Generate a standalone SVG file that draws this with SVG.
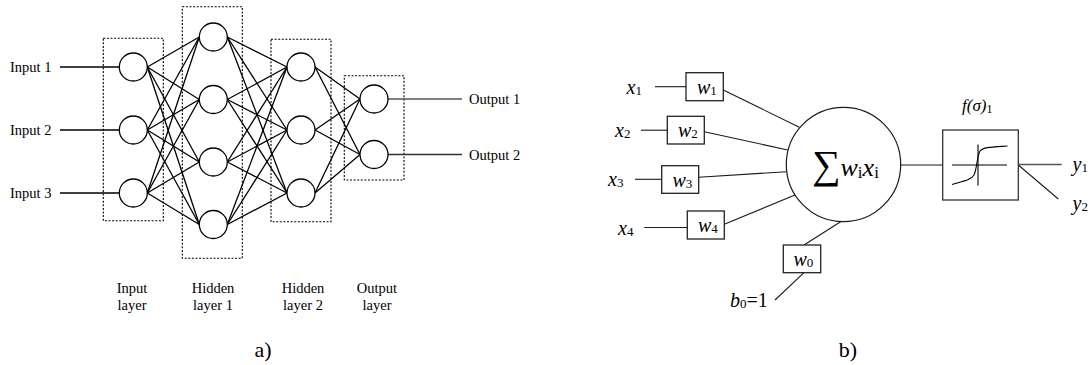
<svg xmlns="http://www.w3.org/2000/svg" width="1091" height="365" viewBox="0 0 1091 365" font-family="'Liberation Serif', 'DejaVu Serif', 'Times New Roman', serif">
<style>
text, tspan{font-family:'Liberation Serif', 'DejaVu Serif', 'Times New Roman', serif;fill:#000}
.lbl{font-size:14.5px}
.cap{font-size:22px}
.n{fill:#fff;stroke:#000;stroke-width:1.3}
.box{fill:none;stroke:#000;stroke-width:1.1;stroke-dasharray:2 1.6}
.c line{stroke:#000;stroke-width:1.3}
.r line,.r path{stroke:#1a1a1a;stroke-width:1.1;fill:none}
.wb{fill:#fff;stroke:#222;stroke-width:1.3}
.it{font-style:italic;font-size:20px}
.sub{font-size:13px;font-style:normal}
</style>
<rect width="1091" height="365" fill="#fff"/>

<g id="layer-boxes">
<rect class="box" x="103.3" y="38.3" width="60" height="182.4"/>
<rect class="box" x="182.3" y="6.7" width="60" height="251.6"/>
<rect class="box" x="271" y="39.3" width="60" height="182.4"/>
<rect class="box" x="344.3" y="75.7" width="59.7" height="104.3"/>
</g>

<g id="connectors-a" class="c">
<line x1="60" y1="67" x2="119.3" y2="67"/>
<line x1="60" y1="130" x2="119.3" y2="130"/>
<line x1="60" y1="193" x2="119.3" y2="193"/>
<line x1="147.3" y1="67" x2="199.3" y2="37"/><line x1="147.3" y1="67" x2="199.3" y2="99.5"/><line x1="147.3" y1="67" x2="199.3" y2="162"/><line x1="147.3" y1="67" x2="199.3" y2="224.5"/>
<line x1="147.3" y1="130" x2="199.3" y2="37"/><line x1="147.3" y1="130" x2="199.3" y2="99.5"/><line x1="147.3" y1="130" x2="199.3" y2="162"/><line x1="147.3" y1="130" x2="199.3" y2="224.5"/>
<line x1="147.3" y1="193" x2="199.3" y2="37"/><line x1="147.3" y1="193" x2="199.3" y2="99.5"/><line x1="147.3" y1="193" x2="199.3" y2="162"/><line x1="147.3" y1="193" x2="199.3" y2="224.5"/>
<line x1="227.3" y1="37" x2="287" y2="67"/><line x1="227.3" y1="37" x2="287" y2="130"/><line x1="227.3" y1="37" x2="287" y2="193"/>
<line x1="227.3" y1="99.5" x2="287" y2="67"/><line x1="227.3" y1="99.5" x2="287" y2="130"/><line x1="227.3" y1="99.5" x2="287" y2="193"/>
<line x1="227.3" y1="162" x2="287" y2="67"/><line x1="227.3" y1="162" x2="287" y2="130"/><line x1="227.3" y1="162" x2="287" y2="193"/>
<line x1="227.3" y1="224.5" x2="287" y2="67"/><line x1="227.3" y1="224.5" x2="287" y2="130"/><line x1="227.3" y1="224.5" x2="287" y2="193"/>
<line x1="315" y1="67" x2="360" y2="99"/><line x1="315" y1="67" x2="360" y2="154.5"/>
<line x1="315" y1="130" x2="360" y2="99"/><line x1="315" y1="130" x2="360" y2="154.5"/>
<line x1="315" y1="193" x2="360" y2="99"/><line x1="315" y1="193" x2="360" y2="154.5"/>
<line x1="388" y1="99" x2="462" y2="99" style="stroke:#555;stroke-width:1.6"/>
<line x1="388" y1="154.5" x2="462" y2="154.5" style="stroke:#333"/>
</g>

<g id="input-layer">
<circle class="n" cx="133.3" cy="67" r="14"/>
<circle class="n" cx="133.3" cy="130" r="14"/>
<circle class="n" cx="133.3" cy="193" r="14"/>
</g>
<g id="hidden-layer-1">
<circle class="n" cx="213.3" cy="37" r="14"/>
<circle class="n" cx="213.3" cy="99.5" r="14"/>
<circle class="n" cx="213.3" cy="162" r="14"/>
<circle class="n" cx="213.3" cy="224.5" r="14"/>
</g>
<g id="hidden-layer-2">
<circle class="n" cx="301" cy="67" r="14"/>
<circle class="n" cx="301" cy="130" r="14"/>
<circle class="n" cx="301" cy="193" r="14"/>
</g>
<g id="output-layer">
<circle class="n" cx="374" cy="99" r="14"/>
<circle class="n" cx="374" cy="154.5" r="14"/>
</g>

<g id="labels-a" class="lbl">
<text x="10" y="72">Input 1</text>
<text x="10" y="135">Input 2</text>
<text x="10" y="198">Input 3</text>
<text x="469" y="104">Output 1</text>
<text x="469" y="159.5">Output 2</text>
<text x="132" y="293" text-anchor="middle">Input</text>
<text x="132" y="310" text-anchor="middle">layer</text>
<text x="213" y="293" text-anchor="middle">Hidden</text>
<text x="213" y="310" text-anchor="middle">layer 1</text>
<text x="303" y="293" text-anchor="middle">Hidden</text>
<text x="303" y="310" text-anchor="middle">layer 2</text>
<text x="377" y="293" text-anchor="middle">Output</text>
<text x="377" y="310" text-anchor="middle">layer</text>
</g>
<text class="cap" x="263" y="357" text-anchor="middle">a)</text>

<g id="connectors-b" class="r">
<line x1="655" y1="86.7" x2="686" y2="86.7"/>
<line x1="641" y1="130.2" x2="667.3" y2="130.2"/>
<line x1="635" y1="179.3" x2="661.7" y2="179.3"/>
<line x1="644.3" y1="227.5" x2="687.3" y2="227.5"/>
<line x1="723.3" y1="90" x2="799.3" y2="127.3"/>
<line x1="704.3" y1="131.7" x2="787.7" y2="150"/>
<line x1="698.7" y1="177.3" x2="786.7" y2="171.7"/>
<line x1="724.3" y1="224.3" x2="795" y2="195"/>
<line x1="804" y1="245" x2="841" y2="221.5"/>
<line x1="804" y1="272.7" x2="775" y2="300"/>
<line x1="900.5" y1="165" x2="942.7" y2="165"/>
<line x1="1018.3" y1="164.5" x2="1061.7" y2="164.5" style="stroke:#555;stroke-width:1.6"/>
<line x1="1018.3" y1="165" x2="1058.3" y2="199"/>
</g>

<g id="weight-boxes">
<g id="w1"><rect class="wb" x="686" y="72.7" width="37.3" height="28"/><text class="it" x="697" y="93.5">w<tspan class="sub" dy="1">1</tspan></text></g>
<g id="w2"><rect class="wb" x="667.3" y="116.3" width="37" height="27.7"/><text class="it" x="678" y="137">w<tspan class="sub" dy="1">2</tspan></text></g>
<g id="w3"><rect class="wb" x="661.7" y="165.7" width="37" height="27.6"/><text class="it" x="672.5" y="186.5">w<tspan class="sub" dy="1">3</tspan></text></g>
<g id="w4"><rect class="wb" x="687.3" y="211" width="37" height="28"/><text class="it" x="698" y="232">w<tspan class="sub" dy="1">4</tspan></text></g>
<g id="w0"><rect class="wb" x="783.3" y="245" width="37.4" height="27.7"/><text class="it" x="793.5" y="266">w<tspan class="sub" dy="1">0</tspan></text></g>
</g>

<g id="inputs-b">
<text class="it" x="626.5" y="93.5">x<tspan class="sub" dy="1">1</tspan></text>
<text class="it" x="615" y="136.5">x<tspan class="sub" dy="1">2</tspan></text>
<text class="it" x="608" y="185.5">x<tspan class="sub" dy="1">3</tspan></text>
<text class="it" x="618" y="235">x<tspan class="sub" dy="1">4</tspan></text>
<text class="it" x="730" y="306.5">b<tspan class="sub" dy="1">0</tspan><tspan font-style="normal" dy="-1">=1</tspan></text>
</g>

<g id="summation">
<circle cx="843.5" cy="164.5" r="57.2" fill="#fff" stroke="#1a1a1a" stroke-width="1.2"/>
<text x="812" y="178"><tspan font-size="40">∑</tspan><tspan font-style="italic" font-size="26" dy="-2">w</tspan><tspan font-size="17" dy="2">i</tspan><tspan font-style="italic" font-size="26" dy="-2">x</tspan><tspan font-size="17" dy="2">i</tspan></text>
</g>

<g id="activation">
<rect x="942.7" y="130" width="75.6" height="70" fill="#fff" stroke="#333" stroke-width="1.3"/>
<line x1="952" y1="165" x2="1007" y2="165" stroke="#000" stroke-width="1.1"/>
<line x1="978" y1="144.5" x2="978" y2="185.5" stroke="#000" stroke-width="1.1"/>
<path d="M952,184.5 C964,181 971,180 974,175 C977,169 977,156 980,151 C983,147 992,147 1007.5,146" fill="none" stroke="#000" stroke-width="1.1"/>
<text x="962" y="111" font-size="17" font-style="italic">f(σ)<tspan font-style="normal" font-size="12" dy="2">1</tspan></text>
</g>

<g id="outputs-b">
<text class="it" x="1072.5" y="171">y<tspan class="sub" dy="1">1</tspan></text>
<text class="it" x="1072.5" y="210">y<tspan class="sub" dy="1">2</tspan></text>
</g>

<text class="cap" x="848" y="357" text-anchor="middle">b)</text>
</svg>
